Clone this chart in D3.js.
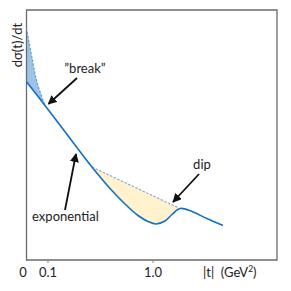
<!DOCTYPE html>
<html><head><meta charset="utf-8">
<script src="https://cdn.jsdelivr.net/npm/d3@7"></script>
<style>body{margin:0;background:#fff}svg{display:block}text{font-family:Lato,"Open Sans",sans-serif}</style>
</head><body>
<script>
// |t| values (GeV^2) and log dσ/dt (arbitrary units)
const mainT = [0, 0.088, 0.284, 0.481, 0.636, 0.764, 0.876, 0.961, 1.030, 1.107, 1.167, 1.236, 1.339, 1.465, 1.604];
const mainV = [7.13, 6.18, 4.92, 3.72, 2.86, 2.24, 1.78, 1.54, 1.44, 1.56, 1.82, 2.06, 1.94, 1.66, 1.38];
const breakT = [0, 0.0238, 0.05, 0.088];
const breakV = [9.28, 8.2, 7.12, 6.18];
const dipT = [0.481, 1.225];
const dipV = [3.72, 2.08];
const tickVals = [0.1, 1.0];
const tickLabels = ["0.1", "1.0"];
const annLabels = ["\u201dbreak\u201d", "exponential", "dip"];
const annText = [[0.421, 7.5], [0.254, 1.56], [1.424, 3.64]];
const annTail = [[0.353, 7.28], [0.25, 2.0], [1.399, 3.44]];
const annHead = [[0.108, 6.24], [0.344, 4.24], [1.176, 2.32]];

const W = 291, H = 291;
const L = 26.5, T = 10, R = 277, B = 260;
const x = d3.scaleLinear().domain([0, 0.1, 1.0]).range([L, 47.5, 152.5]);
const y = d3.scaleLinear().domain([0, 10]).range([B, T]);

const svg = d3.select("body").append("svg").attr("width", W).attr("height", H);
const defs = svg.append("defs");
defs.append("marker").attr("id", "ah").attr("viewBox", "0 0 10 10").attr("refX", 9).attr("refY", 5)
  .attr("markerWidth", 5).attr("markerHeight", 5).attr("orient", "auto")
  .append("path").attr("d", "M0,0L10,5L0,10z").attr("fill", "#111");

const main = mainT.map((t, i) => [t, mainV[i]]);
const brk = breakT.map((t, i) => [t, breakV[i]]);
const dip = dipT.map((t, i) => [t, dipV[i]]);
const curve = d3.curveCatmullRom.alpha(0.5);
const line = d3.line().x(d => x(d[0])).y(d => y(d[1])).curve(curve);

// sample the main curve as drawn to build the fill for the dip
const tmp = svg.append("path").attr("d", line(main)).attr("fill", "none");
const node = tmp.node(), len = node.getTotalLength();
const samples = d3.range(0, len + 0.5, 0.5).map(l => node.getPointAtLength(Math.min(l, len)));
tmp.remove();
const x0 = x(dipT[0]), x1 = x(dipT[1]);
const seg = samples.filter(p => p.x >= x0 && p.x <= x1);
let dFill = `M${x0},${y(dipV[0])}`;
seg.forEach(p => { dFill += `L${p.x},${p.y}`; });
dFill += `L${x1},${y(dipV[1])}Z`;
svg.append("path").attr("d", dFill).attr("fill", "#fff2cc").attr("stroke", "none");

// break fill: dashed curve over main line
svg.append("path")
  .attr("d", line(brk) + "L" + x(0) + "," + y(mainV[0]) + "Z")
  .attr("fill", "#9dc3e6").attr("stroke", "none");

// frame
svg.append("path").attr("d", `M${L},${T}H${R}V${B}H${L}Z`).attr("fill", "none")
  .attr("stroke", "#6b6b6b").attr("stroke-width", 1.3);

// dashed lines
svg.append("path").attr("d", line(brk)).attr("fill", "none").attr("stroke", "#5b9bd5")
  .attr("stroke-width", 1.1).attr("stroke-dasharray", "2.5,1.5");
svg.append("path").attr("d", d3.line().x(d => x(d[0])).y(d => y(d[1]))(dip)).attr("fill", "none")
  .attr("stroke", "#7fa6d3").attr("stroke-width", 1.1).attr("stroke-dasharray", "2.5,1.5");

// main curve
svg.append("path").attr("d", line(main)).attr("fill", "none").attr("stroke", "#1170c4").attr("stroke-width", 1.6);

// x axis ticks
const ax = svg.append("g").attr("transform", `translate(0,${B})`)
  .call(d3.axisBottom(x).tickValues(tickVals).tickSize(3).tickFormat((d, i) => tickLabels[i]));
ax.select(".domain").remove();
ax.selectAll("line").attr("stroke", "#888");
ax.selectAll("text").attr("font-size", 13).attr("fill", "#222").attr("dy", "0.71em").attr("y", 7.5);
svg.append("text").attr("x", x(0) - 3.5).attr("y", 276.5).attr("text-anchor", "middle")
  .attr("font-size", 13).attr("fill", "#222").text("0");
const xt = svg.append("text").attr("x", 203).attr("y", 276.5).attr("font-size", 13).attr("fill", "#222");
xt.append("tspan").text("|t|\u00a0\u00a0(GeV");
xt.append("tspan").attr("font-size", 8.5).attr("dy", -5).text("2");
xt.append("tspan").attr("dy", 5).text(")");

// y label
svg.append("text").attr("transform", "translate(22,45) rotate(-90)").attr("text-anchor", "middle")
  .attr("font-size", 13).attr("fill", "#222").text("d\u03c3(t)/dt");

// annotations
annLabels.forEach((s, i) => {
  svg.append("text").attr("x", x(annText[i][0])).attr("y", y(annText[i][1])).attr("text-anchor", "middle")
    .attr("font-size", 13).attr("fill", "#222").text(s);
  svg.append("line").attr("x1", x(annTail[i][0])).attr("y1", y(annTail[i][1]))
    .attr("x2", x(annHead[i][0])).attr("y2", y(annHead[i][1]))
    .attr("stroke", "#111").attr("stroke-width", 1.8).attr("marker-end", "url(#ah)");
});
</script>
</body></html>
